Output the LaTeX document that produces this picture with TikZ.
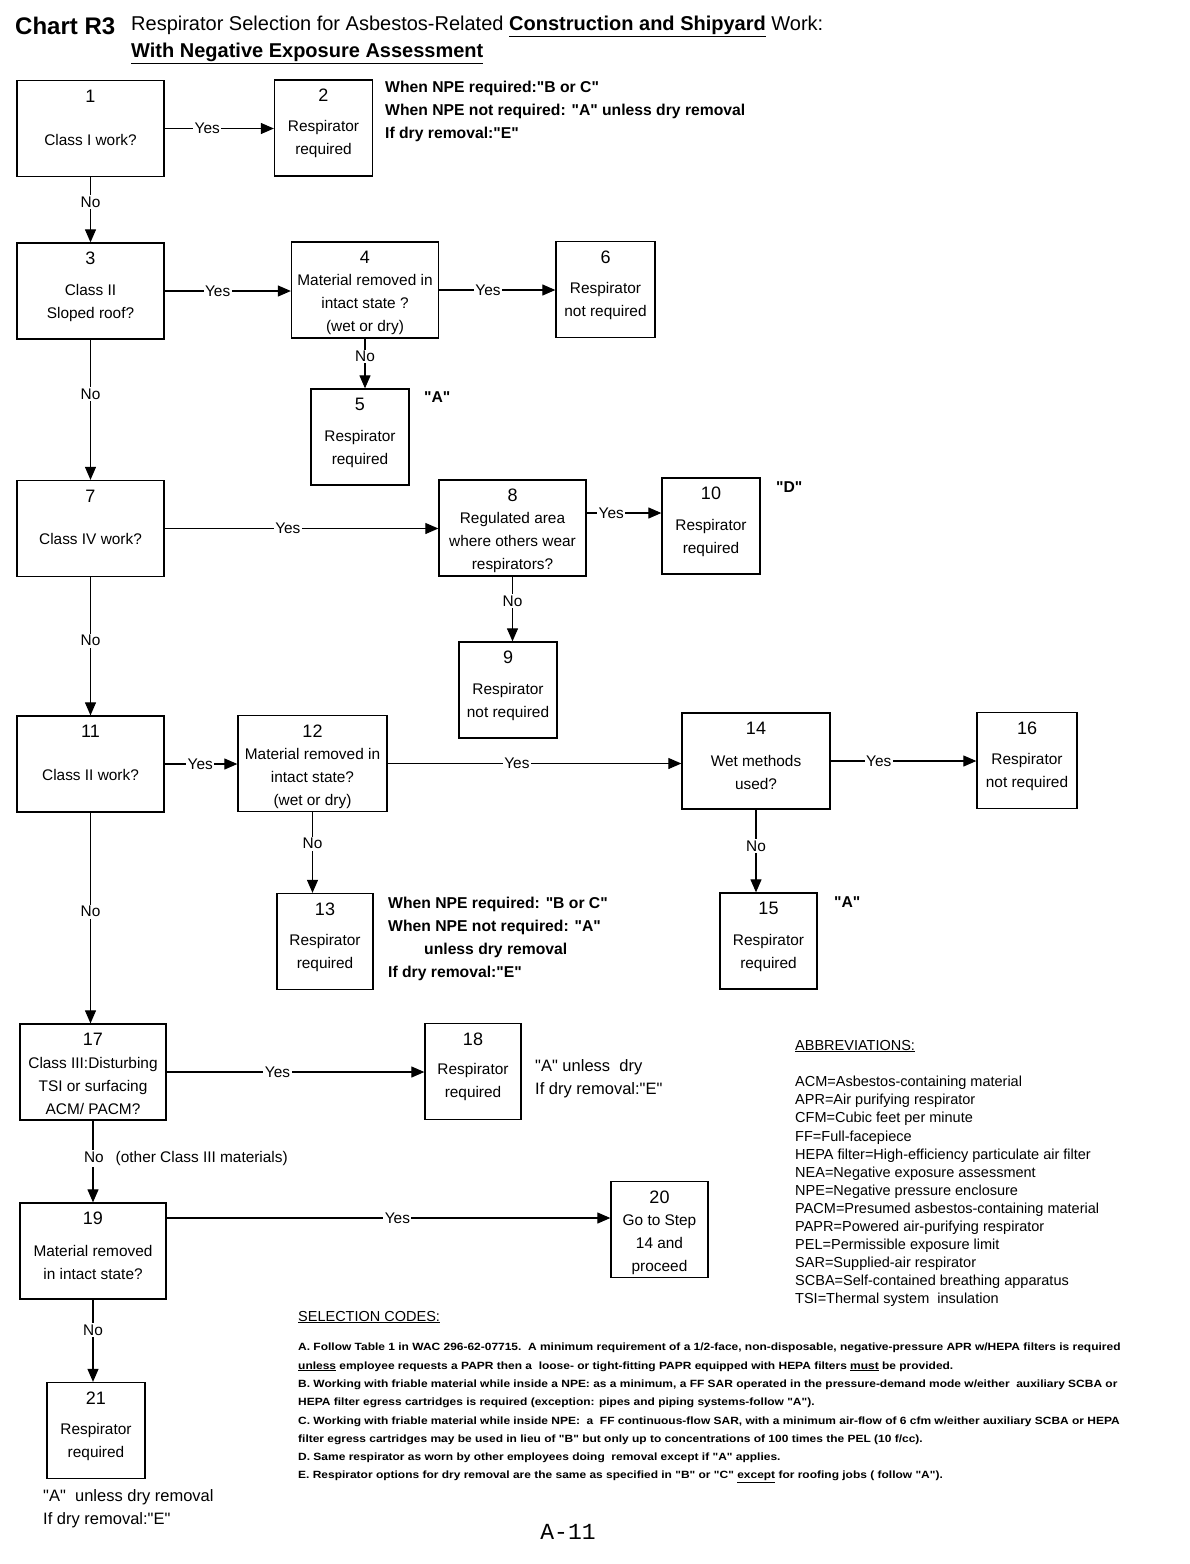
\documentclass[tikz,border=0pt]{standalone}
\usepackage{fontspec}
\setmainfont{Liberation Sans}[Ligatures=TeXOff]
\newfontfamily\pgmono{Liberation Mono}
\newfontfamily\codefont{Liberation Sans}[Ligatures=TeXOff, FakeStretch=1.14]
\usetikzlibrary{positioning, arrows.meta, calc}

\begin{document}
\begin{tikzpicture}[x=1pt, y=-1pt,
  qbox/.style={draw, line width=1.3pt, minimum width=147pt, minimum height=96pt, inner sep=0pt},
  rbox/.style={draw, line width=1.3pt, minimum width=98pt, minimum height=96pt, inner sep=0pt},
  num/.style={font=\fontsize{18}{20}\selectfont, inner sep=0pt},
  txt/.style={align=center, font=\fontsize{15.4}{23}\selectfont, inner sep=0pt},
  note/.style={align=left, anchor=west, font=\bfseries\fontsize{15.7}{23}\selectfont, inner sep=0pt},
  plain/.style={align=left, anchor=west, font=\fontsize{16.5}{23}\selectfont, inner sep=0pt},
  flow/.style={line width=1.1pt, -{Triangle[length=13pt, width=11pt]}},
  lab/.style={fill=white, inner sep=1.5pt, font=\fontsize{15.4}{18}\selectfont}]
  \useasboundingbox (0,0) rectangle (1190,1564);
  % Helper: box with number on top and text below (#6 = text offset)
  \def\bx#1#2#3#4#5#6{%
    \node[#1] (#2) at (#3) {};
    \node[num] (#2n) at ($(#2.north)+(0,16)$) {#4};
    \node[txt] (#2t) at ($(#2.center)+(0,#6)$) {#5};
  }
  % Title
  \node[anchor=west, inner sep=0pt, font=\bfseries\fontsize{24}{26}\selectfont] (chart) at (15,26) {Chart R3};
  \node[anchor=west, inner sep=0pt, font=\fontsize{20}{24}\selectfont] (title) at (131,26)
    {Respirator Selection for Asbestos-Related \textbf{\underline{Construction and Shipyard}} Work:};
  \node[anchor=west, inner sep=0pt, font=\bfseries\fontsize{20}{24}\selectfont] (subtitle) at (131,53)
    {\underline{With Negative Exposure Assessment}};
  % Boxes
  \bx{qbox}{b1}{90.5,128.5}{1}{Class I work?}{11}
  \bx{rbox}{b2}{323.5,128}{2}{Respirator\\required}{11}
  \bx{qbox}{b3}{90.5,291}{3}{Class II\\Sloped roof?}{12}
  \bx{qbox}{b4}{365,290}{4}{Material removed in\\intact state ?\\(wet or dry)}{15}
  \bx{rbox, minimum width=99pt}{b6}{605.5,289.5}{6}{Respirator\\not required}{12}
  \bx{rbox}{b5}{360,437}{5}{Respirator\\required}{12}
  \bx{qbox}{b7}{90.5,528.5}{7}{Class IV work?}{10}
  \bx{qbox}{b8}{512.5,528}{8}{Regulated area\\where others wear\\respirators?}{15}
  \bx{rbox}{b10}{711,526}{10}{Respirator\\required}{12}
  \bx{rbox}{b9}{508,690}{9}{Respirator\\not required}{12}
  \bx{qbox}{b11}{90.5,764}{11}{Class II work?}{11}
  \bx{qbox, minimum width=149pt}{b12}{312.5,763.5}{12}{Material removed in\\intact state?\\(wet or dry)}{15}
  \bx{qbox, minimum width=148pt}{b14}{756,761}{14}{Wet methods\\used?}{11}
  \bx{rbox, minimum width=100pt}{b16}{1027,760.5}{16}{Respirator\\not required}{12}
  \bx{rbox, minimum width=96pt}{b13}{325,941.5}{13}{Respirator\\required}{12}
  \bx{rbox, minimum width=97pt}{b15}{768.5,941}{15}{Respirator\\required}{12}
  \bx{qbox, minimum width=146pt}{b17}{93,1072}{17}{Class III:Disturbing\\TSI or surfacing\\ACM/ PACM?}{14}
  \bx{rbox, minimum width=96pt}{b18}{473,1071.5}{18}{Respirator\\required}{11}
  \bx{qbox, minimum width=146pt}{b19}{93,1251}{19}{Material removed\\in intact state?}{11}
  \bx{rbox, minimum width=97pt}{b20}{659.5,1229.5}{20}{Go to Step\\14 and\\proceed}{15}
  \bx{rbox}{b21}{96,1430.5}{21}{Respirator\\required}{11}
  % Codes beside the boxes
  \node[note] (c2) at (385,111) {When NPE required:"B or C"\\When NPE not required: "A" unless dry removal\\If dry removal:"E"};
  \node[note] (c5) at (424,397) {"A"};
  \node[note] (c10) at (776,487) {"D"};
  \node[note] (c13) at (388,938.5) {When NPE required: "B or C"\\When NPE not required: "A"\\\hspace*{36pt}unless dry removal\\If dry removal:"E"};
  \node[note] (c15) at (834,902) {"A"};
  \node[plain] (c18) at (535,1078.5) {"A" unless\ \ dry\\If dry removal:"E"};
  \node[plain] (c21) at (43,1508.5) {"A"\ \ unless dry removal\\If dry removal:"E"};
  % Yes branches
  \foreach \a/\b/\p in {b1/b2/0.39, b3/b4/0.42, b4/b6/0.42, b7/b8/0.45, b11/b12/0.49, b12/b14/0.44, b14/b16/0.33, b17/b18/0.43}
    \draw[flow] (\a.east) -- node[lab, pos=\p] (y\a) {Yes} (\a.east -| \b.west);
  \coordinate (e8) at ($(b8.east)+(0,-15)$);
  \draw[flow] (e8) -- node[lab, pos=0.33] (yb8) {Yes} (e8 -| b10.west);
  \coordinate (e19) at ($(b19.east)+(0,-33)$);
  \draw[flow] (e19) -- node[lab, pos=0.52] (yb19) {Yes} (e19 -| b20.west);
  % No branches
  \foreach \a/\b/\p in {b1/b3/0.38, b3/b7/0.39, b4/b5/0.36, b8/b9/0.38, b7/b11/0.46, b12/b13/0.39, b14/b15/0.44, b11/b17/0.47, b19/b21/0.37}
    \draw[flow] (\a.south) -- node[lab, pos=\p] (n\a) {No} (\a.south |- \b.north);
  \draw[flow] (b17.south) -- node[lab, pos=0.46, anchor=west, xshift=-11pt] (nb17)
    {No\hspace{12pt}(other Class III materials)} (b17.south |- b19.north);
  % Abbreviations
  \node[anchor=west, inner sep=0pt, font=\fontsize{14.5}{18}\selectfont] (abbrh) at (795,1046) {\underline{ABBREVIATIONS:}};
  \node[anchor=north west, align=left, inner sep=0pt, font=\fontsize{14.5}{18.1}\selectfont] (abbr) at (795,1076) {%
    ACM=Asbestos-containing material\\
    APR=Air purifying respirator\\
    CFM=Cubic feet per minute\\
    FF=Full-facepiece\\
    HEPA filter=High-efficiency particulate air filter\\
    NEA=Negative exposure assessment\\
    NPE=Negative pressure enclosure\\
    PACM=Presumed asbestos-containing material\\
    PAPR=Powered air-purifying respirator\\
    PEL=Permissible exposure limit\\
    SAR=Supplied-air respirator\\
    SCBA=Self-contained breathing apparatus\\
    TSI=Thermal system\ \ insulation};
  % Selection codes
  \node[anchor=west, inner sep=0pt, font=\fontsize{14.5}{18}\selectfont] (codesh) at (298,1317) {\underline{SELECTION CODES:}};
  \node[anchor=north west, align=left, inner sep=0pt, font=\codefont\bfseries\fontsize{10.5}{18.3}\selectfont] (codes) at (298,1343) {%
    A.\ Follow Table 1 in WAC 296-62-07715.\ \ A minimum requirement of a 1/2-face, non-disposable, negative-pressure APR w/HEPA filters is required\\
    \underline{unless} employee requests a PAPR then a\ \ loose- or tight-fitting PAPR equipped with HEPA filters \underline{must} be provided.\\
    B.\ Working with friable material while inside a NPE: as a minimum, a FF SAR operated in the pressure-demand mode w/either\ \ auxiliary SCBA or\\
    HEPA filter egress cartridges is required (exception: pipes and piping systems-follow "A").\\
    C.\ Working with friable material while inside NPE:\ \ a\ \ FF continuous-flow SAR, with a minimum air-flow of 6 cfm w/either auxiliary SCBA or HEPA\\
    filter egress cartridges may be used in lieu of "B" but only up to concentrations of 100 times the PEL (10 f/cc).\\
    D.\ Same respirator as worn by other employees doing\ \ removal except if "A" applies.\\
    E.\ Respirator options for dry removal are the same as specified in "B" or "C" \underline{except} for roofing jobs ( follow "A").};
  % Page number
  \node[inner sep=0pt, font=\pgmono\fontsize{23}{26}\selectfont] (page) at (568,1532) {A-11};
\end{tikzpicture}
\end{document}
